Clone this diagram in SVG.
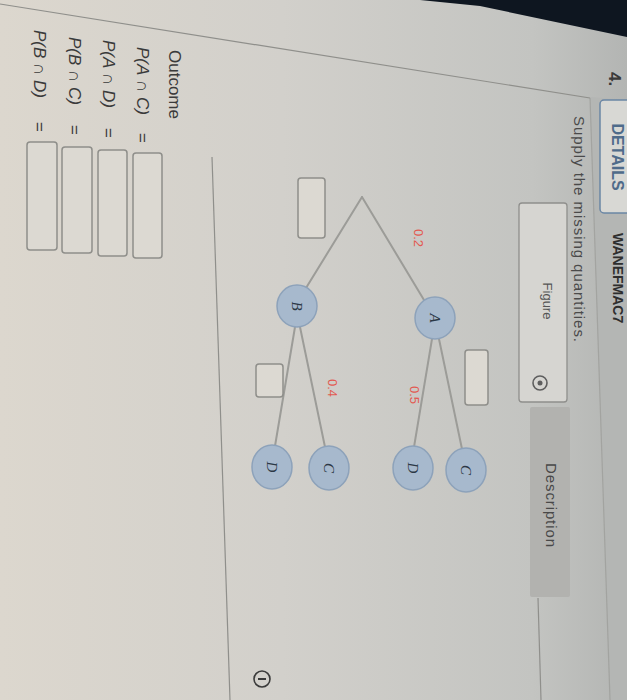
<svg xmlns="http://www.w3.org/2000/svg" width="627" height="700" viewBox="0 0 627 700">
  <defs>
    <linearGradient id="bg" x1="0" y1="0" x2="1" y2="0">
      <stop offset="0" stop-color="#dcd7ce"/>
      <stop offset="0.45" stop-color="#d2d0cb"/>
      <stop offset="0.85" stop-color="#c3c4c1"/>
      <stop offset="1" stop-color="#b3b5b3"/>
    </linearGradient>
    <style>
      .edge { stroke: #9c9c98; stroke-width: 2; fill: none; stroke-linecap: round; }
      .node { fill: #a7b9cd; stroke: #8da2ba; stroke-width: 1.5; }
      .nl { font-family: "Liberation Serif", serif; font-style: italic; font-size: 15px; fill: #2c3846; text-anchor: middle; dominant-baseline: central; }
      .prob { font-family: "Liberation Sans", sans-serif; font-size: 13px; fill: #e25a52; text-anchor: middle; dominant-baseline: central; }
      .box { fill: #dcd9d2; stroke: #8e8e8a; stroke-width: 1.5; }
      .lbl { font-family: "Liberation Sans", sans-serif; font-size: 17px; fill: #3a3a3a; }
      .it { font-style: italic; }
      .line { stroke: #8f8f8b; stroke-width: 1.2; fill: none; }
    </style>
  </defs>

  <rect width="627" height="700" fill="url(#bg)"/>
  <!-- right darker strip -->
  <polygon points="590,97 627,100 627,700 610,700" fill="#b4b6b4"/>
  <!-- dark bezel corner -->
  <polygon points="420,0 627,0 627,37 480,6" fill="#0e1620"/>

  <!-- page lines -->
  <line class="line" x1="0" y1="4" x2="590" y2="98"/>
  <line class="line" x1="590" y1="98" x2="610" y2="700" stroke-opacity="0.5"/>
  <line class="line" x1="212" y1="157" x2="230" y2="700"/>
  <line class="line" x1="538" y1="598" x2="541" y2="700"/>

  <!-- header -->
  <g id="header">
    <text class="lbl" font-size="12" font-weight="bold" fill="#333" transform="translate(609,72) rotate(90)">4.</text>
    <rect x="600" y="100" width="40" height="113" rx="4" fill="#d8d8d4" stroke="#6a86a4" stroke-width="1.5"/>
    <text font-family="Liberation Sans, sans-serif" font-size="16" font-weight="bold" fill="#4f6b8a" text-anchor="middle" transform="translate(612,157) rotate(90)">DETAILS</text>
    <text font-family="Liberation Sans, sans-serif" font-size="14" font-weight="bold" fill="#2e2e2e" transform="translate(613,233) rotate(90)">WANEFMAC7</text>
    <text font-family="Liberation Sans, sans-serif" font-size="15" fill="#4a4a4a" textLength="226" transform="translate(574,116) rotate(90)">Supply the missing quantities.</text>
  </g>

  <!-- tabs -->
  <g id="tab-figure">
    <rect x="519" y="203" width="48" height="199" rx="3" fill="#d6d5d1" stroke="#8f8f8c" stroke-width="1.3"/>
    <text font-family="Liberation Sans, sans-serif" font-size="13" fill="#555" text-anchor="middle" transform="translate(543,301) rotate(90)">Figure</text>
    <circle cx="540" cy="383" r="7" fill="none" stroke="#5e5e5e" stroke-width="1.6"/>
    <circle cx="540" cy="383" r="2.5" fill="#5e5e5e"/>
  </g>
  <g id="tab-description">
    <rect x="530" y="407" width="40" height="190" rx="2" fill="#b2b2af"/>
    <text font-family="Liberation Sans, sans-serif" font-size="15" fill="#484848" text-anchor="middle" textLength="84" transform="translate(546,505) rotate(90)">Description</text>
  </g>

  <!-- connectors -->
  <g id="connectors">
    <line class="edge" x1="362" y1="197" x2="424" y2="300"/>
    <line class="edge" x1="362" y1="197" x2="306" y2="288"/>
    <line class="edge" x1="432" y1="339" x2="414" y2="447"/>
    <line class="edge" x1="439" y1="339" x2="462" y2="449"/>
    <line class="edge" x1="295" y1="327" x2="275" y2="446"/>
    <line class="edge" x1="300" y1="327" x2="325" y2="447"/>
    <text class="prob" transform="translate(418,238) rotate(90)">0.2</text>
    <text class="prob" transform="translate(414,395) rotate(90)">0.5</text>
    <text class="prob" transform="translate(332,388) rotate(90)">0.4</text>
  </g>

  <!-- tree boxes -->
  <g id="box-root"><rect class="box" x="298" y="178" width="27" height="60" rx="3"/></g>
  <g id="box-a"><rect class="box" x="465" y="350" width="23" height="55" rx="3"/></g>
  <g id="box-b"><rect class="box" x="256" y="364" width="27" height="33" rx="3"/></g>

  <!-- nodes -->
  <g id="node-a"><ellipse class="node" cx="435" cy="318" rx="20" ry="21"/><text class="nl" transform="translate(435,318) rotate(90)">A</text></g>
  <g id="node-b"><ellipse class="node" cx="297" cy="306" rx="20" ry="21"/><text class="nl" transform="translate(297,306) rotate(90)">B</text></g>
  <g id="node-ad"><ellipse class="node" cx="413" cy="468" rx="20" ry="22"/><text class="nl" transform="translate(413,468) rotate(90)">D</text></g>
  <g id="node-ac"><ellipse class="node" cx="466" cy="470" rx="20" ry="22"/><text class="nl" transform="translate(466,470) rotate(90)">C</text></g>
  <g id="node-bd"><ellipse class="node" cx="272" cy="467" rx="20" ry="22"/><text class="nl" transform="translate(272,467) rotate(90)">D</text></g>
  <g id="node-bc"><ellipse class="node" cx="329" cy="468" rx="20" ry="22"/><text class="nl" transform="translate(329,468) rotate(90)">C</text></g>

  <!-- outcomes -->
  <g id="outcomes">
    <text class="lbl" font-size="18" transform="translate(169,50) rotate(90)">Outcome</text>
    <text class="lbl" transform="translate(137,47) rotate(90)"><tspan class="it">P(A</tspan> ∩ <tspan class="it">C)</tspan><tspan x="86">=</tspan></text>
    <text class="lbl" transform="translate(103,40) rotate(90)"><tspan class="it">P(A</tspan> ∩ <tspan class="it">D)</tspan><tspan x="88">=</tspan></text>
    <text class="lbl" transform="translate(69,37) rotate(90)"><tspan class="it">P(B</tspan> ∩ <tspan class="it">C)</tspan><tspan x="88">=</tspan></text>
    <text class="lbl" transform="translate(34,30) rotate(90)"><tspan class="it">P(B</tspan> ∩ <tspan class="it">D)</tspan><tspan x="92">=</tspan></text>
  </g>
  <g id="input-ac"><rect class="box" x="133" y="153" width="29" height="105" rx="3"/></g>
  <g id="input-ad"><rect class="box" x="98" y="150" width="29" height="106" rx="3"/></g>
  <g id="input-bc"><rect class="box" x="62" y="147" width="30" height="106" rx="3"/></g>
  <g id="input-bd"><rect class="box" x="27" y="142" width="30" height="108" rx="3"/></g>

  <!-- info icon -->
  <g id="info-icon">
    <circle cx="262" cy="679" r="8" fill="none" stroke="#3a3a3a" stroke-width="1.6"/>
    <line x1="258" y1="679" x2="266" y2="679" stroke="#3a3a3a" stroke-width="2"/>
  </g>
</svg>
